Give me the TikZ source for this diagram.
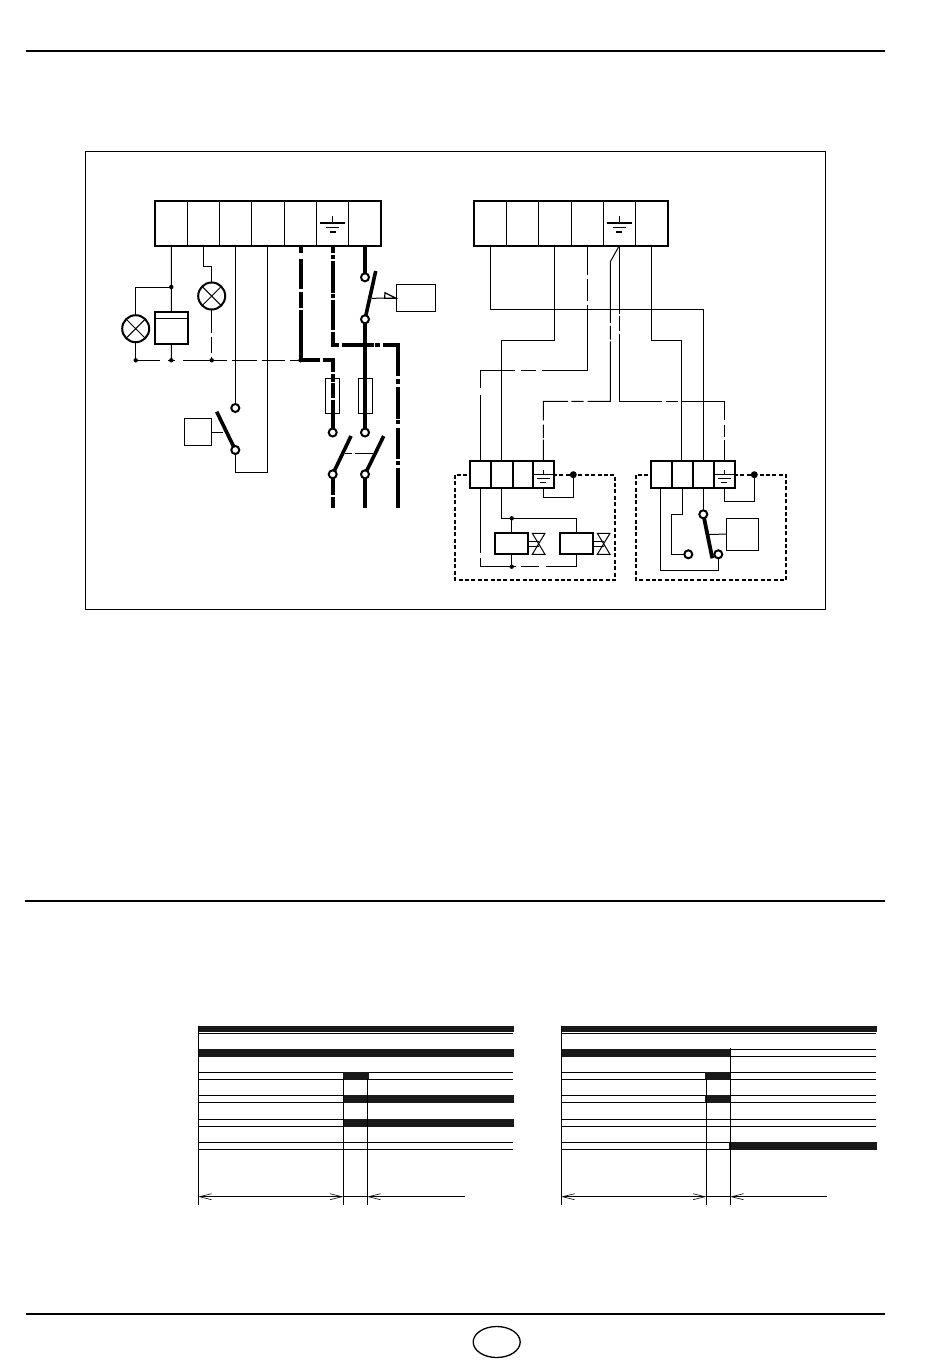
\documentclass[tikz,border=0pt]{standalone}
\usetikzlibrary{arrows.meta,shapes.geometric}
\pgfdeclarelayer{wires}
\pgfsetlayers{wires,main}
\tikzset{
  x=1pt,y=-1pt,
  wire/.style={line width=1pt,line cap=butt,line join=miter},
  heavy/.style={line width=4pt,line cap=butt,line join=miter},
  blade/.style={line width=3.6pt,line cap=butt},
  rule/.style={line width=2pt},
  block/.style={draw,fill=white,line width=2.2pt,inner sep=0,outer sep=0,rectangle},
  cell/.style={line width=1pt},
  plain/.style={draw,line width=1pt,inner sep=0,outer sep=0,rectangle},
  relaybox/.style={draw,line width=2pt,inner sep=0,outer sep=0,rectangle,fill=white},
  lamp/.style={draw,circle,line width=2pt,fill=white,inner sep=0,outer sep=0,minimum size=27pt},
  jdot/.style={fill=black,circle,inner sep=0,outer sep=0,minimum size=4.4pt},
  bigdot/.style={fill=black,circle,inner sep=0,outer sep=0,minimum size=7pt},
  contact/.style={draw,circle,line width=2pt,fill=white,inner sep=0,outer sep=0,minimum size=8pt},
  dashedframe/.style={line width=2pt,dash pattern=on 4pt off 2.4pt},
  bar/.style={fill=black!90},
  row/.style={line width=1pt},
  span/.style={line width=.9pt},
  timeline/.style={line width=.8pt},
  barbs/.style={line width=.8pt,{Straight Barb[length=12pt,width=6pt,line width=.6pt]}-{Straight Barb[length=12pt,width=6pt,line width=.6pt]}},
  barbl/.style={line width=.8pt,{Straight Barb[length=12pt,width=6pt,line width=.6pt]}-},
}
\newcommand{\earthmark}[2]{% x, top y
  \draw[line width=1pt] (#1,#2) -- ++(0,7);
  \draw[line width=1.6pt] (#1-12.2,#2+7) -- ++(24.4,0);
  \draw[line width=1.4pt] (#1-6.8,#2+11.5) -- ++(13.6,0);
  \draw[line width=1.4pt] (#1-2.9,#2+16) -- ++(5.8,0);
}
\newcommand{\smallearth}[3]{% x, block left, block right
  \draw[line width=.8pt] (#1,470) -- (#1,474);
  \draw[line width=.8pt] (#2,474) -- (#3,474);
  \draw[line width=.8pt] (#1-6.3,478.3) -- ++(12.6,0);
  \draw[line width=.8pt] (#1-3,482.3) -- ++(6,0);
}
\newcommand{\valvemark}[1]{% left x
  \draw[line width=1pt] (#1,533.3) -- ++(12.7,0) -- ++(-12.7,21) -- ++(12.7,0) -- cycle;
  \draw[line width=1pt] (#1-4,541.7) -- ++(10.4,0);
  \draw[line width=1pt] (#1-4,546.7) -- ++(10.4,0);
}
\begin{document}
\begin{tikzpicture}
\useasboundingbox (0,0) rectangle (950,1360);
% page rules and frame
\draw[rule] (26,51) -- (885,51);
\draw[rule] (25,901) -- (885,901);
\draw[rule] (26,1314) -- (885,1314);
\node[draw,ellipse,line width=1.3pt,inner sep=0,minimum width=47pt,minimum height=31pt] (badge) at (496.7,1342) {};
\node[plain,minimum width=740pt,minimum height=457.5pt] (frame) at (85.5+370,151.5+228.75) {};

%%% LEFT TERMINAL BLOCK
\node[block,minimum width=226pt,minimum height=44.7pt] (blockL) at (268,223.3) {};
\foreach \xx in {187.3,219.5,251.8,284.2,316.5,348.8}
  \draw[cell] (\xx,201) -- (\xx,245.7);
\earthmark{332.6}{216}
\coordinate (t1) at (171.3,245.7);
\coordinate (t2) at (203.3,245.7);
\coordinate (t3) at (235.3,245.7);
\coordinate (t4) at (267.7,245.7);
\coordinate (t5) at (301,245.7);
\coordinate (t6) at (332.7,245.7);
\coordinate (t7) at (365,245.7);

\node[relaybox,minimum width=33pt,minimum height=32pt] (relay) at (171.5,328) {};
\draw[line width=1pt] (155,318) -- (188,318);
\node[lamp] (lampA) at (135.7,328.7) {};
\node[lamp] (lampB) at (211.7,296) {};
\draw[line width=1pt] (lampA.45) -- (lampA.225) (lampA.135) -- (lampA.315);
\draw[line width=1pt] (lampB.45) -- (lampB.225) (lampB.135) -- (lampB.315);

\node[jdot] (d1) at (171.3,287) {};
\node[jdot] (d2) at (135.7,360.3) {};
\node[jdot] (d3) at (171.3,360.3) {};
\node[jdot] (d4) at (211.7,360.3) {};
\node[jdot] (d5) at (300.5,360.3) {};

\node[contact] (c1) at (235.3,408) {};
\node[contact] (c2) at (235.3,450) {};
\node[contact] (c3) at (365,277.3) {};
\node[contact] (c4) at (365,319.3) {};
\node[contact] (c5) at (332.7,432.5) {};
\node[contact] (c6) at (365,432.5) {};
\node[contact] (c7) at (332.7,474.3) {};
\node[contact] (c8) at (365,474.3) {};

\node[plain,minimum width=27.4pt,minimum height=27.4pt] (boxS) at (198,432) {};
\node[plain,minimum width=39.4pt,minimum height=27.4pt] (boxT) at (416,298) {};
\node[plain,minimum width=14.4pt,minimum height=35.4pt] (fuseA) at (332.5,396) {};
\node[plain,minimum width=13.7pt,minimum height=35.4pt] (fuseB) at (365.2,396) {};
\draw[line width=1.2pt,fill=white] (385,292.7) -- (396,298.3) -- (384.6,298.3) -- cycle;

\coordinate (bladeS) at (216.7,411.7);
\coordinate (bladeSm) at (222.7,432);
\coordinate (bladeT) at (375.7,271);
\coordinate (bladeTm) at (371.5,298.3);
\coordinate (bladeU) at (351,436);
\coordinate (bladeV) at (383.7,436);
\coordinate (linkU) at (345,453.3);
\coordinate (linkV) at (373,453.3);
\coordinate (endU) at (332.7,508);
\coordinate (endV) at (365,508);
\coordinate (endW) at (397.7,508);

\begin{pgfonlayer}{wires}
  \draw[wire] (t1) -- (d1.center) -- (relay.north);
  \draw[wire] (d1.center) -| (lampA.north);
  \draw[wire] (lampA.south) -- (d2.center);
  \draw[wire] (relay.south) -- (d3.center);
  \draw[wire] (t2) |- (211.7,266.3) -- (lampB.north);
  \draw[wire,dash pattern=on 23pt off 4pt on 16pt off 4pt on 7pt] (lampB.south) -- (d4.center);
  \draw[wire,dash pattern=on 24.3pt off 8.3pt on 6.7pt off 8.3pt on 43.4pt off 5pt on 25pt off 5pt on 23.3pt off 5pt on 15pt] (d2.center) -- (d5.center);
  \draw[wire] (t3) -- (c1.center);
  \draw[wire] (t4) |- (235.3,472.3) -- (c2.center);
  \draw[wire] (boxS.east) -- (bladeSm);
  \draw[blade] (c2.center) -- (bladeS);
  % mains, heavy
  \draw[heavy,dash pattern=on 7pt off 6pt on 30pt off 3pt on 16pt off 2pt on 69.3pt off 3.3pt on 21.1pt off 2.3pt on 8.3pt off 1pt on 15pt off 1.7pt on 34pt] (t5) -- (301,360.3) -- (332.7,360.3) -- (c5.center);
  \draw[heavy,dash pattern=on 7pt off 2.5pt on 3.5pt off 2pt on 32pt off 1.5pt on 3.5pt off 2pt on 30pt off 2pt on 20pt off 2.6pt on 31.7pt off 1.7pt on 4.3pt off 3pt on 46pt off 3.4pt on 4.3pt off 3.3pt on 32pt off 1.4pt on 4pt off 3.3pt on 31pt off 2.5pt on 4pt off 2.5pt on 40pt] (t6) -- (332.7,345) -- (397.7,345) -- (endW);
  \draw[heavy] (t7) -- (c3.center);
  \draw[heavy] (c4.center) -- (c6.center);
  \draw[blade] (c4.center) -- (bladeT);
  \draw[wire] (bladeTm) -- (boxT.west);
  \draw[blade] (c7.center) -- (bladeU);
  \draw[blade] (c8.center) -- (bladeV);
  \draw[wire,dash pattern=on 6.7pt off 3.3pt on 18pt] (linkU) -- (linkV);
  \draw[heavy,dash pattern=on 21pt off 2pt on 20pt] (c7.center) -- (endU);
  \draw[heavy] (c8.center) -- (endV);
\end{pgfonlayer}

%%% RIGHT TERMINAL BLOCK
\node[block,minimum width=194pt,minimum height=44.7pt] (blockR) at (571,223.3) {};
\foreach \xx in {506.3,538.7,571.7,603.3,635.7}
  \draw[cell] (\xx,201) -- (\xx,245.7);
\earthmark{619.3}{216}
\coordinate (r1) at (490.3,245.7);
\coordinate (r2) at (554.3,245.7);
\coordinate (r3) at (587.3,245.7);
\coordinate (r4) at (619.3,245.7);
\coordinate (r6) at (651.7,245.7);

%%% UNIT A
\node[block,minimum width=84.3pt,minimum height=27.3pt] (blockA) at (512.2,474.3) {};
\foreach \xx in {490.7,512.7,533}
  \draw[line width=1.8pt] (\xx,460.7) -- (\xx,488);
\smallearth{543.3}{533}{554.3}
\coordinate (a1) at (480.3,460.7);
\coordinate (a2) at (501.3,460.7);
\coordinate (a3) at (543.3,460.7);
\coordinate (a1b) at (480,488);
\coordinate (a2b) at (501.7,488);
\coordinate (a3b) at (543.3,488);
\node[bigdot] (dA) at (573.3,474.7) {};
\node[jdot] (dB) at (511.7,518.3) {};
\node[jdot] (dC) at (511.7,566.7) {};
\node[relaybox,minimum width=33.3pt,minimum height=21.6pt] (coilA) at (511.7,543.5) {};
\node[relaybox,minimum width=33.3pt,minimum height=21.6pt] (coilB) at (576.7,543.5) {};
\valvemark{532.3}
\valvemark{597.3}

%%% UNIT B
\node[block,minimum width=84.3pt,minimum height=27.3pt] (blockB) at (692.8,474.3) {};
\foreach \xx in {672,693,714.3}
  \draw[line width=1.8pt] (\xx,460.7) -- (\xx,488);
\smallearth{724.3}{714.3}{735}
\coordinate (b1) at (681.7,460.7);
\coordinate (b2) at (703.3,460.7);
\coordinate (b3) at (724.5,460.7);
\coordinate (b1b) at (660.7,488);
\coordinate (b2b) at (682.3,488);
\coordinate (b3b) at (703.3,488);
\coordinate (b4b) at (724.3,488);
\node[bigdot] (dD) at (754.3,474.7) {};
\node[contact] (c9) at (703.3,514.3) {};
\node[contact] (c10) at (718.3,554.3) {};
\node[contact] (c11) at (688.3,554.3) {};
\node[plain,minimum width=32pt,minimum height=31.7pt] (boxP) at (742.7,534.2) {};
\coordinate (bladeP) at (712.3,558.3);
\coordinate (bladePm) at (708.3,534.3);

\begin{pgfonlayer}{wires}
  \draw[dashedframe] (455,474.7) rectangle (615,580);
  \draw[dashedframe] (635.7,474.7) rectangle (786.3,580);
  % upper to unit connections
  \draw[wire] (r1) |- (703.3,309.3) -- (b2);
  \draw[wire] (r2) |- (501.3,340.3) -- (a2);
  \draw[wire,dash pattern=on 29pt off 4.3pt on 22.4pt off 3.3pt on 110.6pt off 6pt on 15.3pt off 6.4pt on 52pt off 6.7pt on 70pt] (r3) -- (587.3,370.3) -- (480.3,370.3) -- (a1);
  \draw[wire,dash pattern=on 79.7pt off 2.7pt on 14pt off 1.7pt on 82.6pt off 4pt on 12.3pt off 3.3pt on 43.8pt off 4.3pt on 13.3pt off 1.7pt on 24pt] (r4) -- (610.3,261.7) -- (610.3,401.3) -- (543.3,401.3) -- (a3);
  \draw[wire,dash pattern=on 68pt off 2pt on 15.7pt off 2.3pt on 110.7pt off 4pt on 11.6pt off 3.4pt on 62pt off 4.3pt on 12.3pt off 2.7pt on 24pt] (r4) -- (619.3,401.3) -- (724.5,401.3) -- (b3);
  \draw[wire] (r6) |- (681.7,340.3) -- (b1);
  % unit A inside
  \draw[wire] (a3b) |- (573.3,497.3) -- (dA.center);
  \draw[wire] (a2b) |- (dB.center) -- (coilA.north);
  \draw[wire] (dB.center) -| (coilB.north);
  \draw[wire,dash pattern=on 65pt off 5pt on 45pt off 5pt on 18pt off 6.5pt] (a1b) -- (480,566.7) -- (dC.center) -- (576.7,566.7) -- (coilB.south);
  \draw[wire] (coilA.south) -- (dC.center);
  % unit B inside
  \draw[wire] (b4b) |- (754.3,501.3) -- (dD.center);
  \draw[wire] (b1b) |- (718.3,570) -- (c10.center);
  \draw[wire] (b2b) |- (671.7,514.3) |- (c11.center);
  \draw[wire] (b3b) -- (c9.center);
  \draw[line width=3.8pt] (c9.center) -- (bladeP);
  \draw[wire] (bladePm) -- (boxP.west);
\end{pgfonlayer}

%%% TIMING CHART 1
\fill[bar] (197.5,1026) rectangle (514,1032);
\draw[row] (198.3,1033.3) -- (513.3,1033.3);
\fill[bar] (197.5,1049) rectangle (514,1056.7);
\foreach \yy in {1072.3,1079.3,1095.3,1102.3,1119.3,1126.3,1142.3,1149.3}
  \draw[row] (198.3,\yy) -- (513.3,\yy);
\fill[bar] (342.7,1071.8) rectangle (369,1079.8);
\fill[bar] (342.7,1094.8) rectangle (514,1102.8);
\fill[bar] (342.7,1118.8) rectangle (514,1126.8);
\coordinate (p1) at (198.3,1196.7);
\coordinate (p2) at (343.3,1196.7);
\coordinate (p3) at (367.3,1196.7);
\coordinate (p4) at (465,1196.7);
\draw[span] (198.3,1026) -- (198.3,1205);
\draw[span] (343.3,1079) -- (343.3,1205);
\draw[span] (367.3,1079) -- (367.3,1205);
\draw[barbs] (p1) -- (p2);
\draw[timeline] (p2) -- (p3);
\draw[barbl] (p3) -- (p4);

%%% TIMING CHART 2
\fill[bar] (560.5,1026) rectangle (876.5,1032);
\draw[row] (561.3,1033.3) -- (876,1033.3);
\fill[bar] (560.5,1049) rectangle (730.7,1056.7);
\foreach \yy in {1049,1056.7}
  \draw[row] (730,\yy) -- (876,\yy);
\foreach \yy in {1072.3,1079.3,1095.3,1102.3,1119.3,1126.3,1142.3,1149.3}
  \draw[row] (561.3,\yy) -- (876,\yy);
\fill[bar] (705,1071.8) rectangle (731,1079.8);
\fill[bar] (705,1094.8) rectangle (731,1102.8);
\fill[bar] (729.3,1141.8) rectangle (877,1149.8);
\coordinate (q1) at (561.3,1196.7);
\coordinate (q2) at (706.3,1196.7);
\coordinate (q3) at (730.3,1196.7);
\coordinate (q4) at (827.3,1196.7);
\draw[span] (561.3,1026) -- (561.3,1205);
\draw[span] (706.3,1079) -- (706.3,1205);
\draw[span] (730.3,1048) -- (730.3,1205);
\draw[barbs] (q1) -- (q2);
\draw[timeline] (q2) -- (q3);
\draw[barbl] (q3) -- (q4);
\end{tikzpicture}
\end{document}
